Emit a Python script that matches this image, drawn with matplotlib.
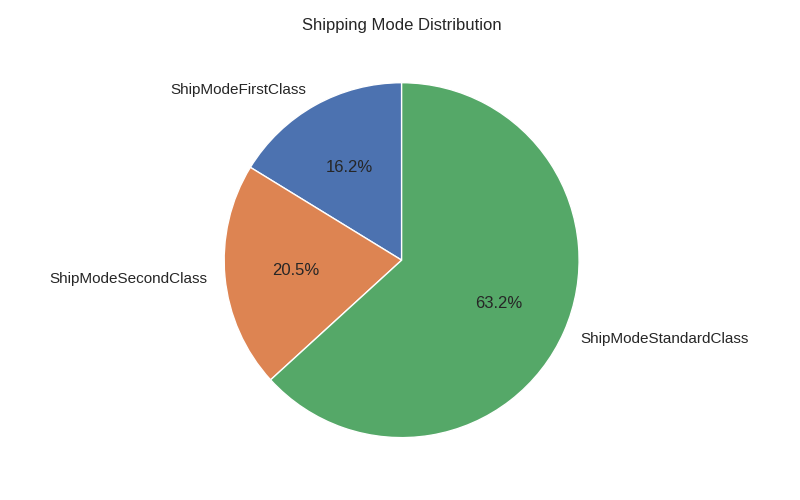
import matplotlib
matplotlib.use('Agg')
import matplotlib.pyplot as plt
import seaborn as sns

sns.set_theme(style='white')
plt.rcParams['font.family'] = ['Liberation Sans', 'DejaVu Sans']

# shipping mode shares (percent)
modes = ['ShipModeFirstClass', 'ShipModeSecondClass', 'ShipModeStandardClass']
shares = [16.24, 20.54, 63.22]
colors = sns.color_palette('deep')[:3]

fig, ax = plt.subplots(figsize=(8, 5), dpi=100)
wedges, texts, autotexts = ax.pie(shares, labels=modes, autopct='%1.1f%%', startangle=90,
                                  colors=colors,
                                  wedgeprops={'edgecolor': 'white', 'linewidth': 1},
                                  textprops={'fontsize': 11})
for t in autotexts:
    t.set_fontsize(12)
ax.set_title('Shipping Mode Distribution', fontsize=12)
plt.tight_layout()
plt.savefig('out.png', dpi=100)
